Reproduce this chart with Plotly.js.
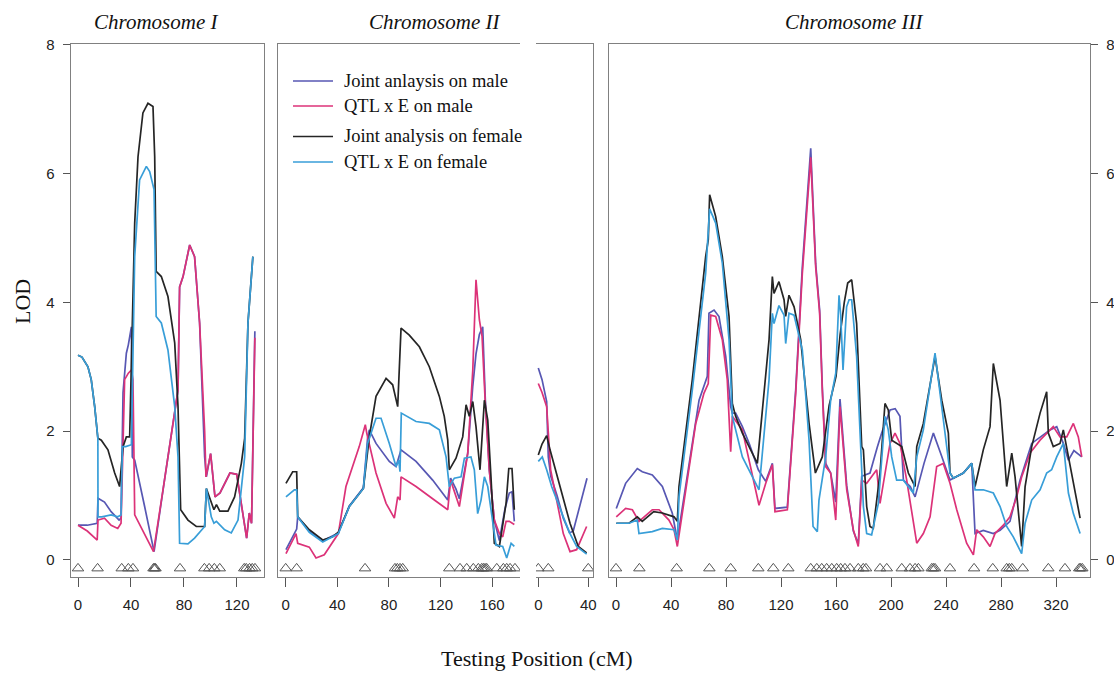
<!DOCTYPE html>
<html>
<head>
<meta charset="utf-8">
<script src="https://cdn.plot.ly/plotly-3.0.1.min.js"></script>
<style>html,body{margin:0;padding:0;background:#fff;}#chart{width:1114px;height:673px;}</style>
</head>
<body>
<div id="chart"></div>
<script>
// ---------------- DATA ----------------
const seriesNames = ["Joint anlaysis on male", "QTL x E on male", "Joint analysis on female", "QTL x E on female"];
const panelTitles = ["Chromosome I", "Chromosome II", "Chromosome III"];
const yTicks = [0, 2, 4, 6, 8];

// Chromosome I
const c1_jm_x = [0, 7, 14.5, 15.1, 20, 25, 31, 32.5, 34, 36.5, 38, 40.3, 41, 42.8, 50.3, 57.4, 65, 73, 75.5, 76.7, 79.3, 84.3, 88, 91.8, 95.6, 96.9, 100.1, 103.4, 107.2, 114.7, 119.8, 124.8, 127.3, 129.3, 131, 133.5];
const c1_jm_y = [0.54, 0.54, 0.57, 0.96, 0.9, 0.75, 0.62, 0.65, 2.6, 3.21, 3.34, 3.62, 1.6, 1.55, 0.83, 0.13, 1.2, 2.33, 2.64, 4.24, 4.40, 4.89, 4.71, 3.68, 1.6, 1.29, 1.65, 0.98, 1.04, 1.35, 1.33, 0.67, 0.34, 0.73, 0.57, 3.55];
const c1_qm_x = [0, 7, 14.5, 15.1, 20, 25, 30, 32.5, 35.2, 38, 40.3, 41.5, 42.8, 50, 57, 65, 73, 75.5, 76.7, 79.3, 84.3, 88, 91.8, 95.6, 96.6, 100.1, 103.4, 107.2, 114.7, 119.8, 124.8, 127.3, 129.3, 131, 133.5];
const c1_qm_y = [0.54, 0.45, 0.31, 0.62, 0.65, 0.54, 0.49, 0.57, 2.8, 2.9, 2.95, 2.8, 0.7, 0.4, 0.13, 1.2, 2.33, 2.64, 4.24, 4.40, 4.89, 4.71, 3.68, 2.0, 1.29, 1.65, 0.98, 1.04, 1.35, 1.33, 0.67, 0.34, 0.73, 0.57, 3.45];
const c1_jf_x = [0, 3, 7.5, 10, 12.6, 15, 17.6, 22.6, 27.7, 31.4, 34, 36.5, 39, 41.5, 42.8, 45.3, 49, 52.8, 56.6, 57.9, 59, 62.9, 67.9, 73, 75.5, 77.5, 83, 89.3, 95.6, 96.9, 100.6, 102.6, 104.5, 107, 113.2, 118.2, 123.3, 125.8, 128.3, 132];
const c1_jf_y = [3.18, 3.15, 3.0, 2.8, 2.38, 1.89, 1.86, 1.71, 1.35, 1.14, 1.76, 1.91, 1.91, 3.9, 5.23, 6.26, 6.94, 7.09, 7.04, 6.26, 4.48, 4.40, 4.09, 3.37, 2.38, 0.78, 0.62, 0.52, 0.52, 1.11, 0.88, 0.78, 0.86, 0.76, 0.76, 0.98, 1.50, 1.89, 3.68, 4.71];
const c1_qf_x = [0, 3, 7.5, 10, 12.6, 15, 15.1, 18, 25, 30, 32.5, 33.5, 36, 40.3, 42.8, 46.5, 51.6, 54.1, 57.4, 59, 62.9, 67.9, 73, 75.5, 76.7, 83, 88, 95.6, 96.9, 100.6, 102.6, 104.5, 110.7, 115.7, 120.8, 125.8, 128.3, 132];
const c1_qf_y = [3.18, 3.15, 3.0, 2.8, 2.38, 1.89, 0.67, 0.67, 0.70, 0.67, 0.70, 1.76, 1.76, 1.79, 4.71, 5.9, 6.11, 6.03, 5.75, 3.78, 3.68, 3.26, 2.38, 1.6, 0.26, 0.25, 0.34, 0.52, 1.11, 0.67, 0.57, 0.6, 0.47, 0.42, 0.62, 1.6, 3.68, 4.71];
const c1_markers = [0, 14.8, 33, 38, 41.5, 57, 57.8, 58.5, 77, 95.4, 99, 102.9, 107, 125.5, 127, 129.5, 131.5, 133.6];

// Chromosome II (first segment)
const c2_jm_x = [0.2, 8.5, 9.3, 18.3, 28.7, 40.8, 49.3, 60.2, 63.5, 64.8, 70, 80.3, 85.5, 87.6, 89.4, 101, 113.9, 125.6, 127.8, 132, 134.6, 141.1, 145, 147.5, 150.1, 152.7, 154.7, 157.8, 161.7, 165.6, 170, 173.3, 175.4, 177.2];
const c2_jm_y = [0.16, 0.48, 0.67, 0.45, 0.3, 0.42, 0.84, 1.12, 1.9, 2.02, 1.81, 1.53, 1.45, 1.6, 1.71, 1.53, 1.24, 0.93, 1.27, 1.1, 0.95, 1.66, 2.7, 3.2, 3.5, 3.62, 2.5, 1.4, 0.62, 0.3, 0.8, 1.04, 1.06, 0.6];
const c2_qm_x = [0.2, 8, 9.3, 18.3, 23.5, 29.9, 40.8, 46.7, 57, 61.7, 62.8, 70, 77.8, 84.2, 86.8, 88.6, 89.4, 101, 113.9, 125.6, 127.8, 132, 134.6, 141.1, 145, 147.5, 150.1, 152.2, 154.7, 157.8, 161.7, 165.6, 168.2, 170.8, 173.3, 177.2];
const c2_qm_y = [0.1, 0.41, 0.26, 0.2, 0.03, 0.08, 0.41, 1.14, 1.76, 2.1, 1.97, 1.35, 0.88, 0.65, 0.98, 0.93, 1.29, 1.14, 0.95, 0.78, 1.24, 0.98, 0.83, 1.66, 2.95, 4.35, 3.73, 3.47, 2.43, 1.4, 0.62, 0.41, 0.36, 0.6, 0.6, 0.55];
const c2_jf_x = [0.2, 5.4, 8.5, 9.3, 18.3, 28.7, 36.4, 40.8, 49.3, 60.2, 64.8, 70, 77.8, 82.9, 86.8, 89.4, 95.8, 103.6, 111.3, 119.1, 122.9, 125.6, 126.8, 132, 137.2, 139.8, 142.3, 145, 147.5, 150.6, 154, 156.6, 159.1, 161.7, 165.6, 170.8, 172.9, 175.4, 177.2];
const c2_jf_y = [1.19, 1.37, 1.37, 0.67, 0.47, 0.31, 0.36, 0.43, 0.83, 1.11, 1.91, 2.54, 2.82, 2.72, 2.38, 3.6, 3.49, 3.31, 3.0, 2.54, 2.23, 1.86, 1.4, 1.58, 1.91, 2.41, 2.23, 2.46, 2.07, 1.4, 2.48, 2.17, 1.29, 0.26, 0.21, 0.88, 1.42, 1.42, 0.78];
const c2_qf_x = [0.2, 6.7, 8.5, 9.3, 18.3, 28.7, 40.8, 49.3, 60.2, 63.5, 70, 73.9, 80.3, 85.5, 87.6, 88.6, 89.6, 101, 111.3, 119.1, 124.3, 126.8, 130.7, 135.9, 138.5, 143.6, 146.2, 148.8, 151.4, 154, 156.6, 163, 168.2, 171.3, 174.7, 177.2];
const c2_qf_y = [0.98, 1.09, 1.09, 0.67, 0.43, 0.28, 0.41, 0.83, 1.11, 1.81, 2.2, 2.2, 1.81, 1.45, 1.55, 1.37, 2.28, 2.15, 2.12, 2.02, 1.6, 1.14, 1.27, 1.29, 1.58, 1.6, 1.4, 0.72, 0.93, 1.29, 1.14, 0.23, 0.21, 0.03, 0.26, 0.21];
const c2_markers = [0, 8.5, 61.5, 84.7, 86.5, 88.6, 90.7, 126.8, 135.1, 140.3, 145.4, 149.3, 151.9, 153.2, 154.5, 155.8, 163.6, 168.7, 171.3, 173.9, 177.7];

// Chromosome II (second segment)
const c2b_jm_x = [0, 3, 6.7, 8, 10, 15, 20, 25, 28, 39];
const c2b_jm_y = [2.98, 2.8, 2.46, 1.6, 1.3, 1.0, 0.65, 0.42, 0.45, 1.27];
const c2b_qm_x = [0, 3, 6.7, 9.9, 15, 20, 25.4, 30.7, 38.7];
const c2b_qm_y = [2.74, 2.6, 2.38, 1.4, 0.9, 0.41, 0.13, 0.16, 0.52];
const c2b_jf_x = [0, 3, 6.7, 9.4, 17.4, 25.4, 32, 38.7];
const c2b_jf_y = [1.63, 1.8, 1.93, 1.71, 1.14, 0.57, 0.21, 0.11];
const c2b_qf_x = [0, 3.2, 6.7, 10.7, 20, 25.4, 30.7, 38.7];
const c2b_qf_y = [1.53, 1.6, 1.4, 1.14, 0.67, 0.41, 0.21, 0.09];
const c2b_markers = [0, 8, 40];

// Chromosome III
const c3_jm_x = [0.2, 7, 15.5, 19.1, 26.4, 33.7, 40.9, 44.6, 50.7, 58, 60.4, 66.4, 67.6, 71.3, 74.9, 79.8, 83.4, 84.6, 87, 91.9, 97, 103.5, 108.9, 113.7, 115.6, 124.6, 130.7, 135.5, 141.6, 145.2, 148.1, 150, 152.5, 156.1, 159.8, 162.9, 167.8, 172.6, 176.2, 178.7, 184.7, 190, 193.2, 199.3, 203, 206.5, 209, 214, 217.5, 224, 230.8, 236, 242.9, 252.6, 258.7, 261.1, 267.1, 274.4, 279.3, 286.5, 293.8, 302.3, 308.4, 315.6, 320.5, 325.3, 329, 333, 338.7];
const c3_jm_y = [0.8, 1.19, 1.42, 1.37, 1.32, 1.14, 0.73, 0.31, 1.15, 2.2, 2.48, 2.85, 3.83, 3.88, 3.78, 3.16, 2.38, 2.28, 2.28, 2.07, 1.8, 1.4, 1.22, 1.5, 0.8, 0.82, 2.65, 4.55, 6.39, 4.6, 3.88, 2.7, 1.5, 1.35, 0.9, 2.5, 1.15, 0.45, 0.25, 1.3, 1.35, 1.75, 1.97, 2.33, 2.35, 2.23, 1.24, 1.14, 0.98, 1.5, 1.97, 1.66, 1.24, 1.35, 1.5, 0.41, 0.46, 0.41, 0.46, 0.6, 1.24, 1.81, 1.91, 2.02, 2.07, 1.81, 1.55, 1.7, 1.6];
const c3_qm_x = [0.2, 7, 11.9, 16.7, 26.4, 31.3, 38.5, 42.2, 44.6, 50.7, 58, 64, 67.1, 68.9, 72.5, 77.3, 80.9, 83.4, 84.6, 91.9, 104, 108.9, 113.7, 115.6, 124.6, 130.7, 135.5, 141.6, 145.2, 148.1, 150, 152.5, 156.1, 159.8, 162.9, 167.8, 172.6, 176.2, 178.7, 182.3, 189.6, 192, 199.3, 202.9, 206.5, 211.4, 218.7, 223.5, 228.4, 233.2, 238, 242.9, 247.8, 255, 259.9, 262.3, 267.1, 272, 275.6, 281.7, 286.5, 291.4, 295, 301.1, 308.4, 318, 322.9, 327.8, 332.6, 336.2, 338.7];
const c3_qm_y = [0.67, 0.8, 0.78, 0.6, 0.78, 0.78, 0.62, 0.47, 0.21, 1.09, 2.12, 2.59, 2.74, 3.8, 3.78, 3.42, 2.8, 1.68, 2.23, 2.02, 0.85, 1.19, 1.48, 0.75, 0.78, 2.59, 4.45, 6.25, 4.55, 3.83, 2.64, 1.45, 1.35, 0.62, 2.38, 1.09, 0.47, 0.21, 1.24, 1.19, 1.4, 0.88, 1.81, 1.97, 1.81, 1.24, 0.26, 0.41, 0.67, 1.45, 1.5, 1.19, 0.78, 0.26, 0.08, 0.47, 0.36, 0.21, 0.41, 0.54, 0.67, 0.98, 1.29, 1.66, 1.86, 2.07, 1.91, 1.91, 2.12, 1.91, 1.6];
const c3_jf_x = [0.2, 9.5, 15.5, 19.1, 27.4, 33.7, 42.2, 44.6, 45.8, 55.5, 65.2, 67.1, 68.1, 72.5, 77.3, 82.2, 84.6, 87, 91.9, 102.8, 111.3, 113.7, 114.9, 118.5, 122.2, 123.4, 125.8, 129.5, 134.3, 140.4, 145, 150, 155, 160, 163, 166, 168.5, 171.4, 175, 178.7, 179.9, 182.3, 184.7, 187.1, 192, 195.6, 198, 200.5, 207.8, 212.6, 217.5, 218.7, 223.5, 232, 236.9, 241.7, 242.9, 245.3, 252.6, 258.7, 261.1, 267.1, 272, 274.4, 279.3, 284.1, 287.8, 290.2, 295, 297.5, 302.3, 308.4, 313.2, 314.4, 318, 322.9, 325.3, 329, 333.8, 337.5];
const c3_jf_y = [0.57, 0.57, 0.67, 0.6, 0.75, 0.73, 0.67, 0.6, 1.14, 2.8, 4.71, 4.97, 5.67, 5.33, 4.71, 3.78, 2.43, 2.23, 1.97, 1.5, 3.42, 4.4, 4.14, 4.32, 4.04, 3.78, 4.11, 3.93, 3.42, 2.12, 1.35, 1.6, 2.4, 2.85, 3.5, 4.0, 4.3, 4.35, 3.67, 1.76, 1.71, 0.83, 0.52, 0.49, 1.35, 2.43, 2.33, 1.86, 1.76, 1.35, 1.14, 1.76, 2.12, 3.16, 2.48, 1.97, 1.35, 1.27, 1.35, 1.5, 1.14, 1.71, 2.07, 3.05, 2.48, 1.14, 1.66, 1.29, 0.21, 1.14, 1.76, 2.28, 2.61, 1.97, 1.76, 1.81, 2.02, 1.6, 1.04, 0.65];
const c3_qf_x = [0.2, 9.5, 15.5, 16.7, 26.4, 33.7, 42.2, 44.6, 45.8, 55.5, 65.2, 68.1, 72.5, 77.3, 82.2, 84.6, 91.9, 104, 111.3, 113.7, 114.9, 118.5, 122.2, 123.4, 125.8, 129.5, 135.5, 140.4, 143.3, 146.4, 147.6, 152.5, 156.1, 159.8, 162.2, 163.4, 165.1, 167.7, 169.5, 171.4, 175, 177.5, 179.9, 182.3, 185.9, 190.8, 195.6, 198, 200.5, 204.1, 209, 216.2, 218.7, 223.5, 232, 242.9, 245.3, 252.6, 258.7, 261.1, 267.1, 274.4, 279.3, 284.1, 288.9, 295, 297.5, 302.3, 308.4, 313.2, 316.8, 320.5, 325.3, 329, 332.6, 337.5];
const c3_qf_y = [0.57, 0.57, 0.62, 0.41, 0.44, 0.49, 0.47, 0.31, 0.98, 2.64, 4.45, 5.45, 5.23, 4.61, 3.42, 2.23, 1.6, 1.09, 2.8, 3.83, 3.67, 3.95, 3.8, 3.36, 3.83, 3.8, 3.26, 1.86, 0.52, 0.44, 0.93, 1.6, 2.48, 2.9, 4.11, 3.8, 2.95, 3.93, 4.04, 4.04, 3.16, 1.86, 0.83, 0.41, 0.39, 0.88, 2.23, 2.02, 1.6, 1.24, 1.24, 1.04, 1.6, 2.02, 3.21, 1.35, 1.27, 1.35, 1.5, 1.09, 1.09, 1.04, 0.83, 0.52, 0.36, 0.1, 0.57, 0.93, 1.09, 1.35, 1.4, 1.6, 1.81, 1.04, 0.72, 0.41];
const c3_markers = [0, 17, 44.1, 67.9, 83.4, 103.5, 114.4, 125.3, 141.6, 146, 149.6, 153.2, 156.9, 160.5, 163.4, 166.5, 170.2, 176.2, 179.8, 181.8, 192, 196.9, 207.8, 213.8, 217.5, 219.9, 229.6, 230.8, 232, 242.9, 260.4, 274, 284.1, 286, 287.8, 295.8, 314.4, 326.5, 336.9, 337.9, 339.1];

// ---------------- STYLE ----------------
const colors = ["#5757b3", "#dc3278", "#252525", "#389ed8"];
const W = 1114, H = 673;
const px = v => v / W, py = v => 1 - v / H;
const markerY = -0.13;

const panels = [
  {xa: "x",  ya: "y",  s: [[c1_jm_x, c1_jm_y], [c1_qm_x, c1_qm_y], [c1_jf_x, c1_jf_y], [c1_qf_x, c1_qf_y]], m: c1_markers},
  {xa: "x2", ya: "y2", s: [[c2_jm_x, c2_jm_y], [c2_qm_x, c2_qm_y], [c2_jf_x, c2_jf_y], [c2_qf_x, c2_qf_y]], m: c2_markers},
  {xa: "x3", ya: "y3", s: [[c2b_jm_x, c2b_jm_y], [c2b_qm_x, c2b_qm_y], [c2b_jf_x, c2b_jf_y], [c2b_qf_x, c2b_qf_y]], m: c2b_markers},
  {xa: "x4", ya: "y4", s: [[c3_jm_x, c3_jm_y], [c3_qm_x, c3_qm_y], [c3_jf_x, c3_jf_y], [c3_qf_x, c3_qf_y]], m: c3_markers}
];

const traces = [];
panels.forEach((p, pi) => {
  p.s.forEach((xy, si) => {
    traces.push({type: "scatter", mode: "lines", x: xy[0], y: xy[1], xaxis: p.xa, yaxis: p.ya,
      name: seriesNames[si], showlegend: false, line: {color: colors[si], width: 1.7}, hoverinfo: "skip"});
  });
  traces.push({type: "scatter", mode: "markers", x: p.m, y: p.m.map(() => markerY), xaxis: p.xa, yaxis: p.ya,
    showlegend: false, hoverinfo: "skip",
    marker: {symbol: "triangle-up-open", size: 10, color: "#555", line: {width: 1, color: "#555"}}});
});

const tickFont = {family: "Liberation Sans, Arial, sans-serif", size: 15, color: "#222"};
const yDom = [py(577), py(44)];
const yRange = [-0.264, 8.01];
const lineCol = "#808080";

function xAx(dom, range, ticks) {
  return {domain: dom, range: range, tickvals: ticks, ticktext: ticks.map(String), ticks: "outside", ticklen: 9,
    tickwidth: 1, tickcolor: "#555", showline: true, mirror: true, linecolor: lineCol, linewidth: 1.3,
    showgrid: false, zeroline: false, tickfont: tickFont, ticklabelstandoff: 5, fixedrange: true};
}
const layout = {
  width: W, height: H, margin: {l: 0, r: 0, t: 0, b: 0}, paper_bgcolor: "#fff", plot_bgcolor: "#fff",
  showlegend: false,
  xaxis:  xAx([px(71), px(264)], [-5.28, 140.4], [0, 40, 80, 120]),
  xaxis2: xAx([px(278), px(520)], [-5.97, 181.6], [0, 40, 80, 120, 160]),
  xaxis3: xAx([px(536), px(593)], [-1.84, 43.8], [0, 40]),
  xaxis4: xAx([px(609), px(1090)], [-5.09, 344.7], [0, 40, 80, 120, 160, 200, 240, 280, 320]),
  yaxis:  {domain: yDom, range: yRange, anchor: "x", tickvals: yTicks, ticks: "outside", ticklen: 7, tickcolor: "#555",
           showline: true, mirror: true, linecolor: lineCol, linewidth: 1.3, showgrid: false, zeroline: false,
           tickfont: tickFont, ticklabelstandoff: 5, fixedrange: true},
  yaxis2: {domain: yDom, range: yRange, anchor: "x2", showticklabels: false, ticks: "", showline: true, mirror: false,
           linecolor: lineCol, linewidth: 1.3, showgrid: false, zeroline: false, fixedrange: true},
  yaxis3: {domain: yDom, range: yRange, anchor: "x3", side: "right", showticklabels: false, ticks: "", showline: true,
           mirror: false, linecolor: lineCol, linewidth: 1.3, showgrid: false, zeroline: false, fixedrange: true},
  yaxis4: {domain: yDom, range: yRange, anchor: "x4", side: "right", tickvals: yTicks, ticks: "outside", ticklen: 7,
           tickcolor: "#555", showline: true, mirror: true, linecolor: lineCol, linewidth: 1.3, showgrid: false,
           zeroline: false, tickfont: tickFont, ticklabelstandoff: 5, fixedrange: true},
  annotations: [],
  shapes: []
};

const serif = "Liberation Serif, Times New Roman, serif";
const titleX = [156, 434.5, 853.5];
panelTitles.forEach((t, i) => layout.annotations.push({text: "<i>" + t + "</i>", x: px(titleX[i]), y: py(22),
  xref: "paper", yref: "paper", xanchor: "center", yanchor: "middle", showarrow: false,
  font: {family: serif, size: 21, color: "#111"}}));
layout.annotations.push({text: "LOD", x: px(22), y: py(302), xref: "paper", yref: "paper", textangle: -90,
  xanchor: "center", yanchor: "middle", showarrow: false, font: {family: serif, size: 22, color: "#111"}});
layout.annotations.push({text: "Testing Position (cM)", x: px(536.5), y: py(658), xref: "paper", yref: "paper",
  xanchor: "center", yanchor: "middle", showarrow: false, font: {family: serif, size: 22, color: "#111"}});

// legend (drawn inside Chromosome II panel)
const legY = [81, 106, 136.5, 162];
seriesNames.forEach((n, i) => {
  layout.shapes.push({type: "line", xref: "paper", yref: "paper", x0: px(293), x1: px(333), y0: py(legY[i]), y1: py(legY[i]),
    line: {color: colors[i], width: 1.7}});
  layout.annotations.push({text: n, x: px(342), y: py(legY[i]), xref: "paper", yref: "paper", xanchor: "left",
    yanchor: "middle", showarrow: false, font: {family: serif, size: 18.5, color: "#111"}});
});

Plotly.newPlot("chart", traces, layout, {staticPlot: true, displayModeBar: false});
</script>
</body>
</html>
